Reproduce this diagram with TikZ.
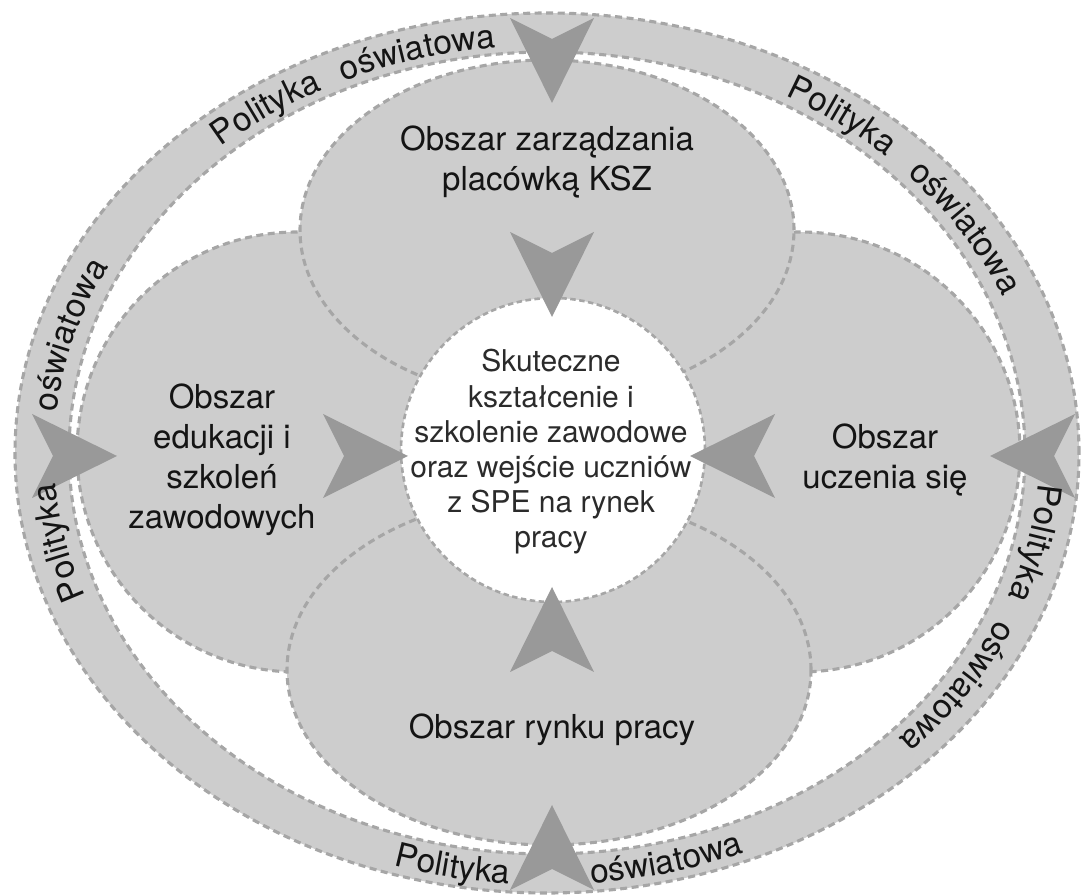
\documentclass[tikz,border=0pt]{standalone}
\usepackage{fontspec}
\setmainfont{TeX Gyre Heros}
\usetikzlibrary{decorations.text}

\definecolor{areafill}{HTML}{CDCDCD}
\definecolor{edgegrey}{HTML}{A6A6A6}
\definecolor{dartgrey}{HTML}{999999}
\definecolor{ink}{HTML}{141414}
\definecolor{coreink}{HTML}{2B2B2B}

\newcommand\bandfont{\fontsize{33.5}{40}\selectfont}

% one word set along the policy ring: text, centre angle, x radius, y radius, signed half span
\newcommand\bandword[5]{%
  \path[decorate,decoration={text along path,text={|\bandfont|#1},text align=center,text color=ink}]
    ({547+#3*cos(#2+#5)},{441+#4*sin(#2+#5)})
    arc[start angle={#2+#5},end angle={#2-#5},x radius=#3,y radius=#4];}

\tikzset{
  edgeline/.style={draw=edgegrey,line width=3.1pt,dash pattern=on 7pt off 4.5pt},
  area/.style={fill=areafill,edgeline},
  areatext/.style={align=center,inner sep=0pt,font=\fontsize{33}{40}\selectfont,text=ink},
  coretext/.style={align=center,inner sep=0pt,font=\fontsize{30}{35.2}\selectfont,text=coreink},
  chevron/.pic={\fill[dartgrey] (0,0) -- (-85,42) -- (-64,0) -- (-85,-42) -- cycle;}
}

\begin{document}
\begin{tikzpicture}[x=1pt,y=1pt]
\useasboundingbox (0,0) rectangle (1081,894);

% policy ring
\fill[areafill,even odd rule] (547,441) ellipse[x radius=532,y radius=440]
                              (547,441) ellipse[x radius=478,y radius=401];
\draw[edgeline] (547,441) ellipse[x radius=532,y radius=440];
\draw[edgeline] (547,441) ellipse[x radius=478,y radius=401];

% the four areas
\path[area] (297,442) circle[radius=220];
\path[area] (800,442) circle[radius=220];
\path[area] (547,664) ellipse[x radius=247,y radius=170];
\path[area] (549,224) ellipse[x radius=262,y radius=175];

% central goal
\path[fill=white,draw=edgegrey,line width=2.6pt,dash pattern=on 5.5pt off 3.5pt] (553,444) circle[radius=152];

% darts from the areas towards the goal
\pic[rotate=-90] at (552,577) {chevron};
\pic[rotate=90]  at (552,307) {chevron};
\pic             at (408,438) {chevron};
\pic[rotate=180] at (690,438) {chevron};

% darts from the ring towards the areas
\pic[rotate=-90] at (552,791) {chevron};
\pic[rotate=90]  at (552,89)  {chevron};
\pic             at (117,438) {chevron};
\pic[rotate=180] at (990,438) {chevron};

% labels
\node[areatext] (ksz)    at (547,732.5) {Obszar zarządzania\\placówką KSZ};
\node[areatext] (edu)    at (222,434.5) {Obszar\\edukacji i\\szkoleń\\zawodowych};
\node[areatext] (learn)  at (885,434.5) {Obszar\\uczenia się};
\node[areatext] (labour) at (552,164.5) {Obszar rynku pracy};
\node[coretext] (goal)   at (551,442)   {Skuteczne\\kształcenie i\\szkolenie zawodowe\\oraz wejście uczniów\\z SPE na rynek\\pracy};

% ring lettering
\bandword{Polityka}{125}{493}{408}{25}
\bandword{oświatowa}{105.5}{493}{408}{25}
\bandword{Polityka}{53}{493}{408}{25}
\bandword{oświatowa}{32}{493}{408}{25}
\bandword{Polityka}{-12}{493}{408}{25}
\bandword{oświatowa}{-33.5}{493}{408}{25}
\bandword{oświatowa}{164}{493}{408}{25}
\bandword{Polityka}{192}{493}{408}{25}
\bandword{Polityka}{259}{517}{432}{-25}
\bandword{oświatowa}{284}{517}{432}{-25}
\end{tikzpicture}
\end{document}
